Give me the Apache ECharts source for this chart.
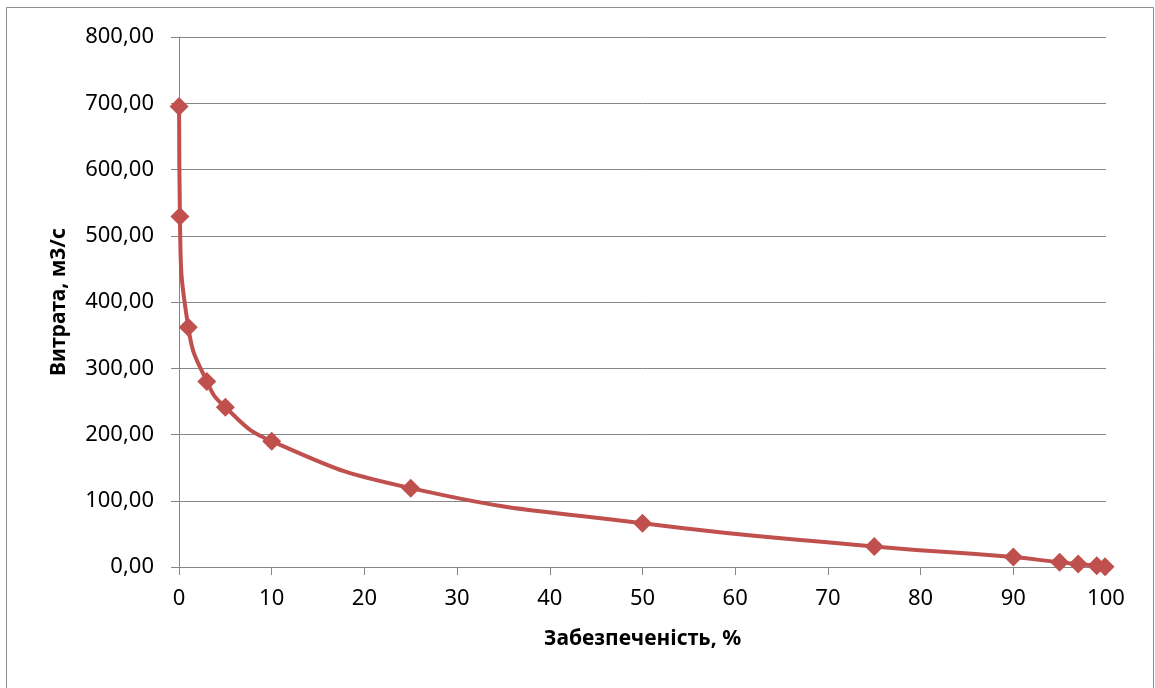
<!DOCTYPE html>
<html>
<head>
<meta charset="utf-8">
<script src="https://cdn.jsdelivr.net/npm/echarts@6/dist/echarts.min.js"></script>
<style>
  html, body { margin: 0; padding: 0; background: #fff; }
  #chart { width: 1155px; height: 688px; }
</style>
</head>
<body>
<div id="chart"></div>
<script>
// забезпеченість, % і витрата, м3/с
const probability = [0.01, 0.1, 1, 3, 5, 10, 25, 50, 75, 90, 95, 97, 99, 99.9]
const discharge = [695, 529, 362, 280, 241, 190, 119, 66, 31, 15, 7, 4.5, 2, 0.5]

const xTitle = 'Забезпеченість, %'
const yTitle = 'Витрата, м3/с'

const font = 'Noto Sans'
const gray = '#868686'

var chart = echarts.init(document.getElementById('chart'))
var option = {
    animation: false,
    graphic: [{
        type: 'rect',
        shape: { x: 6.5, y: 7.5, width: 1147, height: 700 },
        style: { fill: 'none', stroke: '#8e8e8e', lineWidth: 1 }
    }],
    grid: { left: 179, right: 49, top: 37, bottom: 121 },
    xAxis: {
        type: 'value',
        min: 0, max: 100, interval: 10,
        name: xTitle,
        nameLocation: 'middle',
        nameGap: 62,
        nameTextStyle: { fontFamily: font, fontWeight: 'bold', fontSize: 21, color: '#000' },
        axisLine: { lineStyle: { color: gray, width: 1 } },
        axisTick: { show: true, length: 8, lineStyle: { color: gray } },
        axisLabel: { fontFamily: font, fontSize: 22, color: '#000', margin: 21 },
        splitLine: { show: false }
    },
    yAxis: {
        type: 'value',
        min: 0, max: 800, interval: 100,
        name: yTitle,
        nameLocation: 'middle',
        nameGap: 109,
        nameTextStyle: { fontFamily: font, fontWeight: 'bold', fontSize: 21, color: '#000' },
        axisLine: { show: true, lineStyle: { color: gray, width: 1 } },
        axisTick: { show: true, length: 8, lineStyle: { color: gray } },
        axisLabel: {
            fontFamily: font, fontSize: 22, color: '#000', margin: 25,
            formatter: v => v.toFixed(2).replace('.', ',')
        },
        splitLine: { lineStyle: { color: gray, width: 1 } }
    },
    series: [{
        type: 'line',
        data: probability.map((p, i) => [p, discharge[i]]),
        smooth: 0.5,
        symbol: 'diamond',
        symbolSize: 19,
        itemStyle: { color: '#C0504D' },
        lineStyle: { color: '#C0504D', width: 4 }
    }]
}
chart.setOption(option)
</script>
</body>
</html>
